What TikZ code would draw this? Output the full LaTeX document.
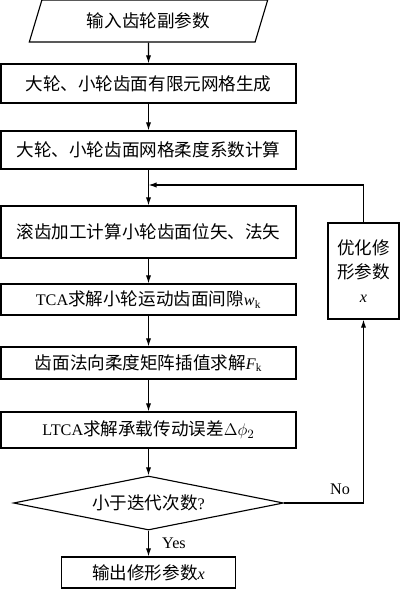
\documentclass[tikz,border=0pt]{standalone}
\usepackage{fontspec}
\setmainfont[Scale=0.92]{Liberation Serif}
\newfontfamily\cjk{Noto Sans CJK SC}
\usetikzlibrary{arrows.meta,positioning,shapes.geometric,calc}

\begin{document}
\begin{tikzpicture}[
  x=0.025cm, y=-0.025cm,
  font=\fontsize{12.5}{15}\selectfont,
  box/.style={draw,line width=0.8pt,inner sep=2pt,minimum width=7.375cm},
  para/.style={draw,line width=0.8pt,trapezium,trapezium left angle=66,trapezium right angle=114,
    trapezium stretches=true,minimum width=5.975cm,minimum height=1.05cm,inner sep=0pt},
  decision/.style={draw,line width=0.8pt,diamond,aspect=5,inner sep=0pt,
    minimum width=6.75cm,minimum height=1.35cm},
  arrow/.style={-{Latex[length=2mm,width=1.3mm]},line width=0.8pt}
]
  \useasboundingbox (0,0) rectangle (400,590);

  \node[para] (input) at (148.5,21) {\cjk 输入齿轮副参数};
  \node[box,minimum height=0.975cm] (mesh) at (148.5,83.5) {\cjk 大轮、小轮齿面有限元网格生成};
  \node[box,minimum height=0.95cm] (flex) at (148.5,150) {\cjk 大轮、小轮齿面网格柔度系数计算};
  \node[box,minimum height=1.3cm] (hob) at (148.5,232) {\cjk 滚齿加工计算小轮齿面位矢、法矢};
  \node[box,minimum height=0.775cm] (tca) at (148.5,299.5) {TCA{\cjk 求解小轮运动齿面间隙}\textit{w}\textsubscript{k}};
  \node[box,minimum height=0.8cm] (interp) at (148.5,363) {{\cjk 齿面法向柔度矩阵插值求解}\textit{F}\textsubscript{k}};
  \node[box,minimum height=0.9cm] (ltca) at (148.5,430) {LTCA{\cjk 求解承载传动误差}$\Delta\phi_2$};
  \node[decision] (iter) at (148.5,503) {{\cjk 小于迭代次数}?};
  \node[box,minimum width=4.35cm,minimum height=0.775cm] (out) at (148.5,572.5) {{\cjk 输出修形参数}\textit{x}};
  \node[box,minimum width=1.775cm,minimum height=2.4cm,align=center,font=\fontsize{12.5}{17}\cjk] (opt) at (363.5,271)
    {优化修\\形参数\\{\rmfamily\itshape x}};
  \coordinate (join) at (148.5,185);
  \node (no) at (340,489) {No};
  \node (yes) at (174,543) {Yes};

  \draw[arrow] (input) -- (mesh);
  \draw[arrow] (mesh) -- (flex);
  \draw[arrow] (flex) -- (hob);
  \draw[arrow] (hob) -- (tca);
  \draw[arrow] (tca) -- (interp);
  \draw[arrow] (interp) -- (ltca);
  \draw[arrow] (ltca) -- (iter);
  \draw[arrow] (iter) -- (out);
  \draw[arrow] (iter.east) -| (opt.south);
  \draw[arrow] (opt.north) |- (join);
\end{tikzpicture}
\end{document}
